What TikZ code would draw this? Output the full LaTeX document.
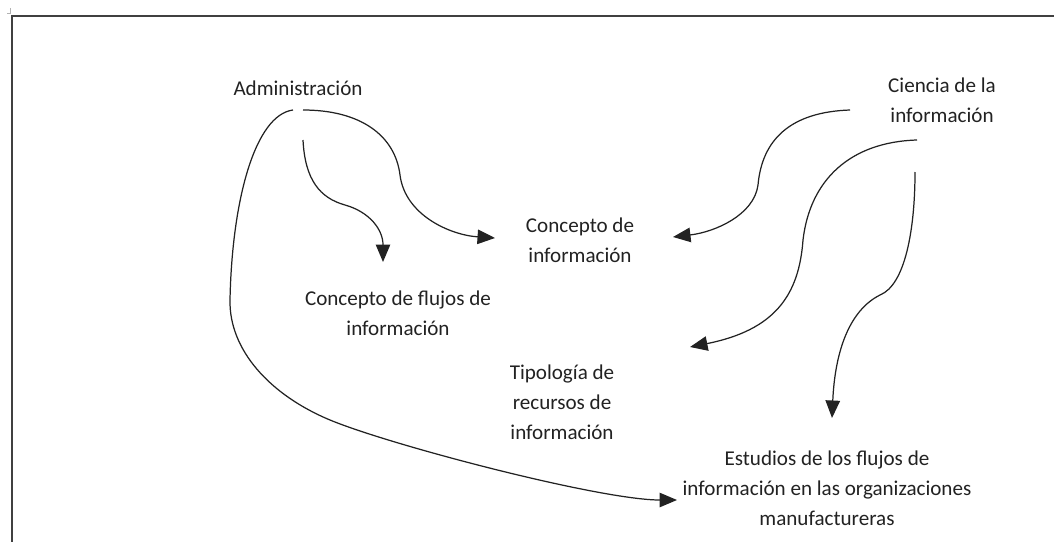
\documentclass[tikz,border=0pt]{standalone}
\usepackage{fontspec}
\setmainfont{Carlito}
\usepackage{xcolor}
\usetikzlibrary{arrows.meta}
\definecolor{Frame}{HTML}{404040}
\definecolor{Ink}{HTML}{222222}

\begin{document}
\begin{tikzpicture}[x=0.2mm, y=-0.2mm,
  concepto/.style={align=center, inner sep=0pt, text=Ink, font=\fontsize{12}{17}\selectfont},
  flecha/.style={line width=0.7pt, Ink, -{Triangle[length=3.5mm, width=2.9mm]}}]
\useasboundingbox (0,0) rectangle (1054,542);

% Frame
\draw[Frame, line width=0.9pt] (1054,16) -- (12,16) -- (12,542);
\draw[gray!60, line width=0.4pt] (7,13) -- (10,13) -- (10,8);

% Nodes
\node[concepto] (adm) at (298, 88) {Administración};
\node[concepto] (cie) at (942,100) {Ciencia de la\\información};
\node[concepto] (cinf) at (580,240) {Concepto de\\información};
\node[concepto] (cflu) at (398,313) {Concepto de flujos de\\información};
\node[concepto] (tip) at (562,402) {Tipología de\\recursos de\\información};
\node[concepto] (est) at (827,488) {Estudios de los flujos de\\información en las organizaciones\\manufactureras};

% Administracion
\draw[flecha] ([shift={(5,22)}]adm.center) .. controls (360,110) and (395,135) .. (400,175)
  .. controls (405,215) and (450,235) .. ([shift={(-85,-2)}]cinf.center);
\draw[flecha] ([shift={(5,52)}]adm.center) .. controls (305,180) and (320,198) .. (345,205)
  .. controls (370,212) and (383,230) .. ([shift={(-15,-51)}]cflu.center);
\draw[flecha] ([shift={(-5,22)}]adm.center) .. controls (255,115) and (232,200) .. (230,300)
  .. controls (229,350) and (270,395) .. (330,420)
  .. controls (390,445) and (600,500) .. ([shift={(-150,12)}]est.center);

% Ciencia de la informacion
\draw[flecha] ([shift={(-92,10)}]cie.center) .. controls (790,112) and (762,140) .. (758,185)
  .. controls (754,215) and (715,232) .. ([shift={(93,-3)}]cinf.center);
\draw[flecha] ([shift={(-25,40)}]cie.center) .. controls (850,142) and (810,180) .. (803,240)
  .. controls (799,295) and (775,330) .. ([shift={(128,-55)}]tip.center);
\draw[flecha] ([shift={(-27,72)}]cie.center) .. controls (915,230) and (905,285) .. (880,295)
  .. controls (850,310) and (835,350) .. ([shift={(5,-70)}]est.center);

\end{tikzpicture}
\end{document}
